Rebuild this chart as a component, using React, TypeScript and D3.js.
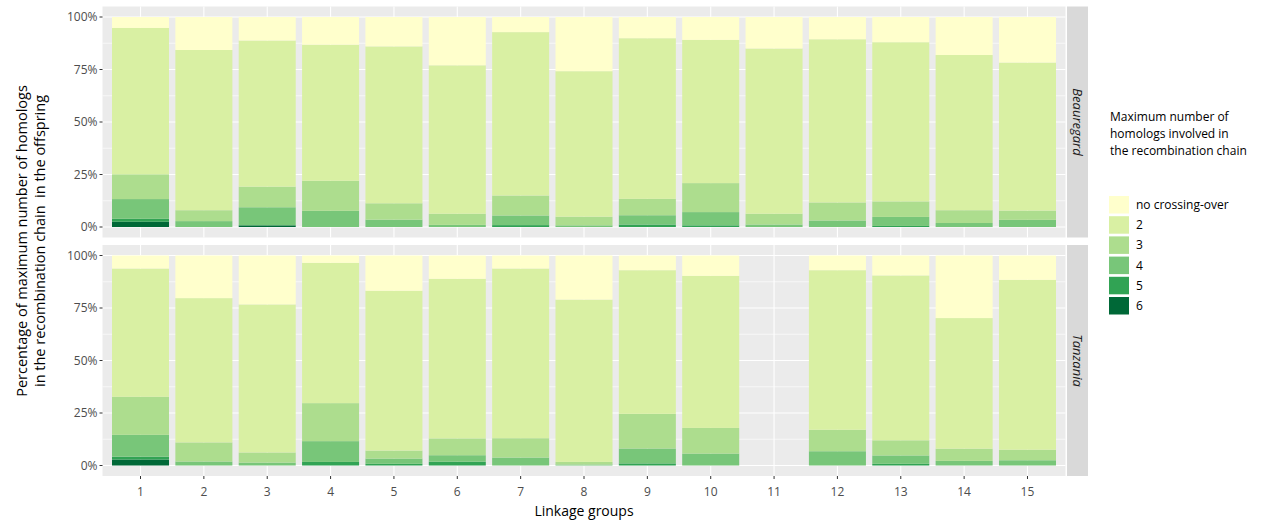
import React from 'react';
import * as d3 from 'd3';

// Linkage groups (x axis)
const groups = ['1', '2', '3', '4', '5', '6', '7', '8', '9', '10', '11', '12', '13', '14', '15'];

// legend order (top -> bottom) and YlGn palette
const levels = ['no crossing-over', '2', '3', '4', '5', '6'];
const levelColors = ['#ffffcc', '#d9f0a3', '#addd8e', '#78c679', '#31a354', '#006837'];

// Beauregard, % of offspring per max number of homologs
const beauNoCO = [5.2, 15.7, 11.2, 13.2, 14.0, 23.0, 7.2, 25.8, 10.1, 10.9, 15.0, 10.6, 12.0, 18.1, 21.7];
const beau2 = [69.7, 76.3, 69.6, 64.8, 74.7, 70.7, 77.8, 69.3, 76.5, 68.2, 78.7, 77.7, 75.8, 73.9, 70.5];
const beau3 = [11.8, 5.2, 9.8, 14.3, 7.8, 5.3, 9.5, 4.1, 7.8, 13.8, 5.1, 8.6, 7.4, 6.1, 4.4];
const beau4 = [9.4, 2.8, 8.6, 7.7, 3.5, 1.0, 4.6, 0.8, 4.4, 6.3, 1.2, 3.1, 4.3, 1.9, 3.4];
const beau5 = [1.4, 0, 0, 0, 0, 0, 0.9, 0, 1.2, 0.8, 0, 0, 0.5, 0, 0];
const beau6 = [2.5, 0, 0.8, 0, 0, 0, 0, 0, 0, 0, 0, 0, 0, 0, 0];

// Tanzania (no data for LG 11)
const tanzNoCO = [6.2, 20.3, 23.3, 3.5, 16.8, 11.1, 6.2, 21.0, 7.0, 9.7, 0, 7.0, 9.5, 29.8, 11.6];
const tanz2 = [61.1, 68.7, 70.5, 66.8, 76.1, 76.0, 80.8, 77.3, 68.4, 72.4, 0, 76.0, 78.5, 62.2, 80.9];
const tanz3 = [18.1, 9.1, 4.8, 18.1, 3.8, 8.0, 9.2, 1.2, 16.5, 12.2, 0, 10.2, 7.2, 5.8, 5.0];
const tanz4 = [10.4, 1.9, 1.4, 9.9, 2.5, 3.1, 3.8, 0.5, 7.1, 5.7, 0, 6.8, 4.0, 2.2, 2.5];
const tanz5 = [1.4, 0, 0, 1.7, 0.8, 1.8, 0, 0, 1.0, 0, 0, 0, 0.8, 0, 0];
const tanz6 = [2.8, 0, 0, 0, 0, 0, 0, 0, 0, 0, 0, 0, 0, 0, 0];

const yTicks = [0, 0.25, 0.5, 0.75, 1];
const yMinor = [0.125, 0.375, 0.625, 0.875];

const FONT = "'Open Sans', 'Liberation Sans', sans-serif";

function rows(cols: number[][]) {
  return groups.map((g, i) => {
    const r: any = { group: g };
    levels.forEach((l, k) => { r[l] = cols[k][i]; });
    return r;
  });
}

const sites = [
  { name: 'Beauregard', top: 6.5, bottom: 237.5, data: rows([beauNoCO, beau2, beau3, beau4, beau5, beau6]) },
  { name: 'Tanzania', top: 245, bottom: 476, data: rows([tanzNoCO, tanz2, tanz3, tanz4, tanz5, tanz6]) },
];

export default function App() {
  const left = 102.5, right = 1065.5;
  const x = d3.scalePoint().domain(groups).range([left, right]).padding(0.6);
  const bw = x.step() * 0.9;
  const color = d3.scaleOrdinal<string, string>().domain(levels).range(levelColors);
  // stack from 6 at the bottom up to no crossing-over, normalised like position = "fill"
  const stack = d3.stack().keys([...levels].reverse()).offset(d3.stackOffsetExpand);
  const fmt = d3.format('.0%');

  return (
    <svg width={1266} height={525} style={{ position: 'absolute', left: 0, top: 0, background: '#fff' }} fontFamily={FONT}>
      {sites.map((s) => {
        const pad = (s.bottom - s.top) * 0.05 / 1.1;
        const y = d3.scaleLinear().domain([0, 1]).range([s.bottom - pad, s.top + pad]);
        const series = stack(s.data);
        const mid = (s.top + s.bottom) / 2;
        return (
          <g key={s.name}>
            <rect x={left} y={s.top} width={right - left} height={s.bottom - s.top} fill="#ebebeb" />
            {yMinor.map((t) => (
              <line key={'m' + t} x1={left} x2={right} y1={y(t)} y2={y(t)} stroke="#fff" strokeWidth={0.6} />
            ))}
            {yTicks.map((t) => (
              <line key={'M' + t} x1={left} x2={right} y1={y(t)} y2={y(t)} stroke="#fff" strokeWidth={1.1} />
            ))}
            {groups.map((g) => (
              <line key={'v' + g} x1={x(g)} x2={x(g)} y1={s.top} y2={s.bottom} stroke="#fff" strokeWidth={1.1} />
            ))}
            {series.map((ser) => (
              <g key={ser.key} fill={color(ser.key)}>
                {ser.map((d, i) => {
                  const h = y(d[0]) - y(d[1]);
                  if (!(h > 0)) return null;
                  return <rect key={i} x={x(groups[i])! - bw / 2} y={y(d[1])} width={bw} height={h} />;
                })}
              </g>
            ))}
            {yTicks.map((t) => (
              <g key={'t' + t}>
                <line x1={left - 3} x2={left} y1={y(t)} y2={y(t)} stroke="#333" strokeWidth={1} />
                <text x={left - 5} y={y(t)} dy="0.35em" textAnchor="end" fontSize={12} fill="#4d4d4d">{fmt(t)}</text>
              </g>
            ))}
            <rect x={1067} y={s.top} width={21} height={s.bottom - s.top} fill="#d9d9d9" />
            <text transform={`translate(1077.5,${mid}) rotate(90)`} textAnchor="middle" dy="0.35em"
              fontSize={13} fontStyle="italic" fill="#1a1a1a">{s.name}</text>
          </g>
        );
      })}

      {groups.map((g) => (
        <g key={'x' + g}>
          <line x1={x(g)} x2={x(g)} y1={476} y2={479} stroke="#333" strokeWidth={1} />
          <text x={x(g)} y={492} dy="0.35em" textAnchor="middle" fontSize={12} fill="#4d4d4d">{g}</text>
        </g>
      ))}

      <text x={(left + right) / 2} y={511} dy="0.35em" textAnchor="middle" fontSize={14} fill="#000">Linkage groups</text>
      <text transform="translate(22,241) rotate(-90)" textAnchor="middle" dy="0.35em" fontSize={14.5} fill="#000">
        Percentage of maximum number of homologs
      </text>
      <text transform="translate(40,241) rotate(-90)" textAnchor="middle" dy="0.35em" fontSize={14.5} fill="#000">
        {'in the recombination chain \u00a0in the offspring'}
      </text>

      <g>
        {['Maximum number of', 'homologs involved in', 'the recombination chain'].map((t, i) => (
          <text key={t} x={1110} y={117 + i * 17} dy="0.35em" fontSize={12} fill="#000">{t}</text>
        ))}
        {levels.map((l, i) => (
          <g key={l} transform={`translate(1109,${196 + i * 20.2})`}>
            <rect width={20} height={17.5} fill={color(l)} />
            <text x={27} y={8.75} dy="0.35em" fontSize={12} fill="#000">{l}</text>
          </g>
        ))}
      </g>
    </svg>
  );
}
